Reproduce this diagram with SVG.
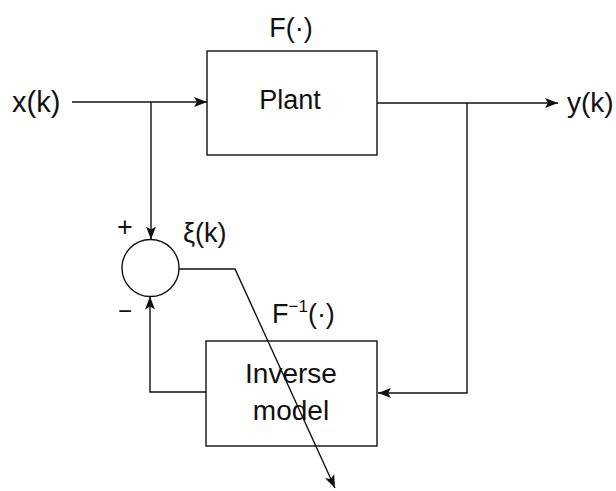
<svg xmlns="http://www.w3.org/2000/svg" width="616" height="491" viewBox="0 0 616 491">
<style>
.box{fill:none;stroke:#111;stroke-width:1.4}
.ln{fill:none;stroke:#111;stroke-width:1.4}
.t{font-family:"Liberation Sans",Arial,sans-serif;fill:#111}
</style>
<defs>
<marker id="ah" markerWidth="14" markerHeight="12" refX="13" refY="6" orient="auto" markerUnits="userSpaceOnUse">
<path d="M0,1 L13,6 L0,11 L3,6 Z" fill="#111"/>
</marker>
</defs>
<rect width="616" height="491" fill="#fff"/>
<g id="plant">
<rect class="box" x="207" y="51" width="170" height="104"/>
<text class="t" x="290" y="109" font-size="27" text-anchor="middle">Plant</text>
<text class="t" x="291" y="37" font-size="27" text-anchor="middle">F(·)</text>
</g>
<g id="inverse">
<rect class="box" x="206" y="341" width="171" height="105"/>
<text class="t" x="291" y="383" font-size="28" text-anchor="middle">Inverse</text>
<text class="t" x="291" y="420" font-size="28" text-anchor="middle">model</text>
<text class="t" x="272" y="323" font-size="27">F<tspan font-size="17" dy="-11">−1</tspan><tspan dy="11">(·)</tspan></text>
</g>
<g id="sum">
<circle class="box" cx="150.5" cy="268" r="28.5"/>
<text class="t" x="125" y="236" font-size="27" text-anchor="middle">+</text>
<text class="t" x="125" y="319" font-size="24" text-anchor="middle">−</text>
</g>
<g id="labels">
<text class="t" x="12" y="112" font-size="29">x(k)</text>
<text class="t" x="567" y="112" font-size="28">y(k)</text>
<text class="t" x="183" y="242" font-size="27">ξ(k)</text>
</g>
<g id="connectors">
<line class="ln" x1="72" y1="102" x2="207" y2="102" marker-end="url(#ah)"/>
<line class="ln" x1="151" y1="102" x2="151" y2="239.5" marker-end="url(#ah)"/>
<line class="ln" x1="377" y1="103" x2="558" y2="103" marker-end="url(#ah)"/>
<polyline class="ln" points="467,103 467,393 378,393" marker-end="url(#ah)"/>
<polyline class="ln" points="206,392 150,392 150,296.5" marker-end="url(#ah)"/>
<polyline class="ln" points="179,269 235,269 335,488" marker-end="url(#ah)"/>
</g>
</svg>
